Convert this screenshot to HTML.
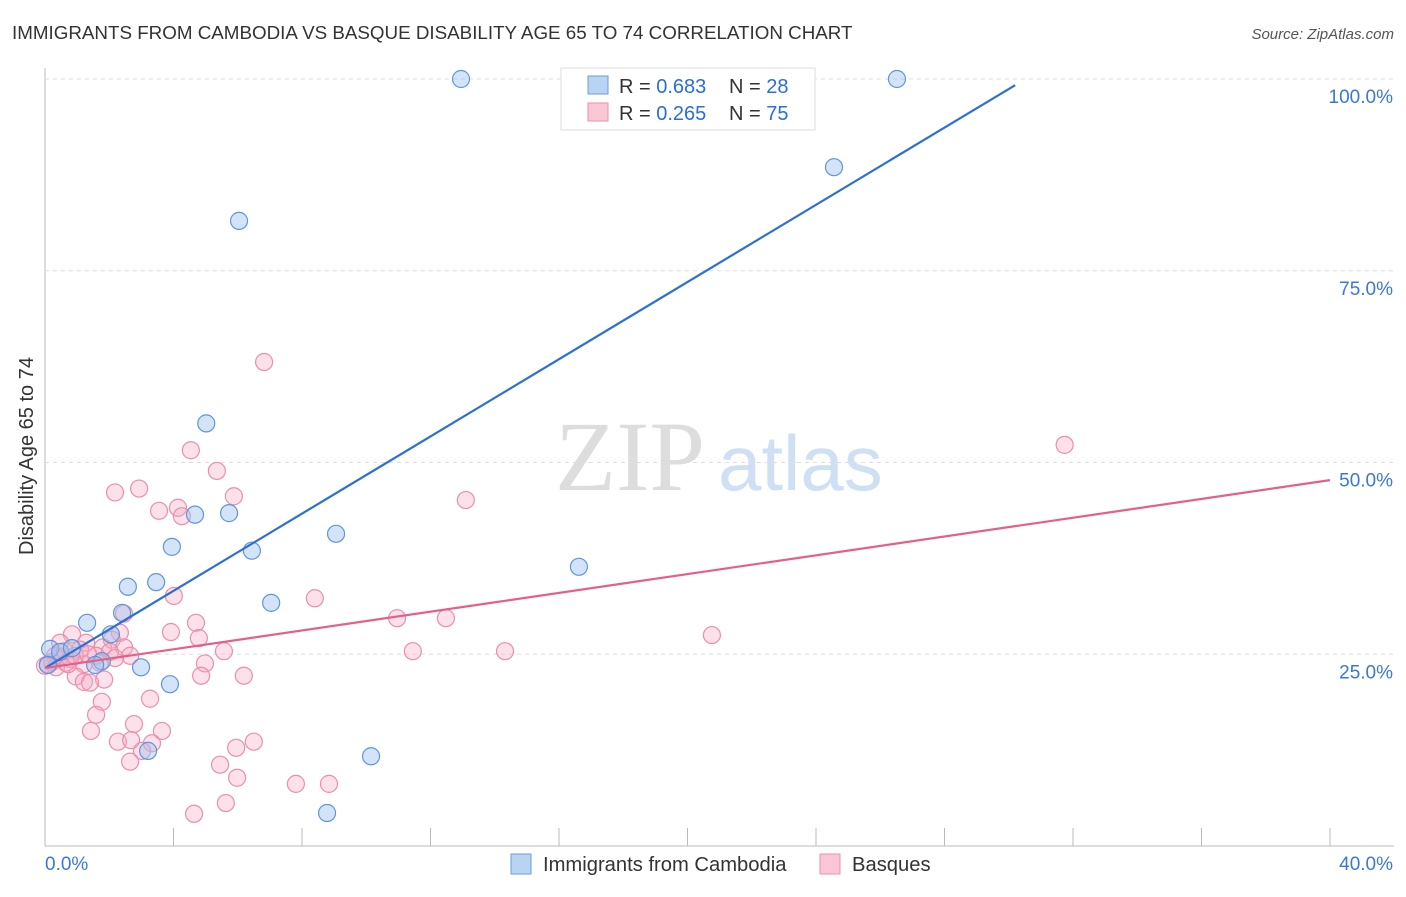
<!DOCTYPE html>
<html><head><meta charset="utf-8"><style>
body{margin:0;background:#fff;font-family:"Liberation Sans",sans-serif}
svg text{font-family:"Liberation Sans",sans-serif}
</style></head><body>
<svg id="c" width="1406" height="892" xmlns="http://www.w3.org/2000/svg">
<text x="12" y="39" font-size="18.8" fill="#333">IMMIGRANTS FROM CAMBODIA VS BASQUE DISABILITY AGE 65 TO 74 CORRELATION CHART</text>
<text x="1394" y="39" font-size="15" fill="#555" text-anchor="end" font-style="italic">Source: ZipAtlas.com</text>
<text x="555" y="490" font-size="100" fill="#ddd" style="font-family:'Liberation Serif',serif">ZIP</text>
<text x="718" y="490" font-size="78" fill="#cfe0f5">atlas</text>
<g id="grid"></g><g id="pts"></g><g id="lines"></g>
<text transform="translate(33,456) rotate(-90)" font-size="20" fill="#333" text-anchor="middle">Disability Age 65 to 74</text>
<g>
<rect x="561" y="68" width="254" height="62" fill="#fff" stroke="#ddd"/>
<rect x="588" y="76" width="20" height="18" fill="#b9d3f3" stroke="#6a9ee0"/>
<rect x="588" y="103" width="20" height="18" fill="#fbc7d6" stroke="#ee8fab"/>
<text x="619" y="93" font-size="20" fill="#333">R = <tspan fill="#2a6fd6">0.683</tspan></text>
<text x="729" y="93" font-size="20" fill="#333">N = <tspan fill="#2a6fd6">28</tspan></text>
<text x="619" y="120" font-size="20" fill="#333">R = <tspan fill="#2a6fd6">0.265</tspan></text>
<text x="729" y="120" font-size="20" fill="#333">N = <tspan fill="#2a6fd6">75</tspan></text>
</g>
<g>
<rect x="511" y="854" width="20" height="20" fill="#b9d3f3" stroke="#6a9ee0"/>
<text x="543" y="871" font-size="20.2" fill="#333">Immigrants from Cambodia</text>
<rect x="820" y="854" width="20" height="20" fill="#fbc7d6" stroke="#ee8fab"/>
<text x="852" y="871" font-size="20.2" fill="#333">Basques</text>
</g>
</svg>
<script>
const xTicks=[0,4,8,12,16,20,24,28,32,36,40];
const yTicks=[25,50,75,100];
const blueX=[12.95,26.52,24.56,6.04,5.02,4.67,5.73,3.95,6.44,9.06,16.62,3.46,2.58,7.04,2.40,1.31,2.05,1.77,2.99,3.89,3.21,10.15,8.78,0.16,0.47,0.84,1.56,0.09];
const blueY=[100,100,88.5,81.5,55.1,43.2,43.4,39.0,38.5,40.7,36.4,34.4,33.8,31.7,30.4,29.1,27.6,24.1,23.3,21.1,12.4,11.7,4.3,25.7,25.3,25.8,23.6,23.6];
const pinkX=[6.82,4.54,5.35,31.74,2.18,2.93,3.55,4.14,4.26,5.88,13.1,4.01,8.4,2.46,4.7,10.96,12.48,3.92,4.79,2.33,0.84,2.08,1.28,5.57,11.45,14.32,20.76,1.80,2.46,4.98,4.86,6.19,1.59,2.02,0.47,1.09,0.65,1.21,0.22,0.34,0.96,1.21,1.84,1.40,3.27,1.77,1.59,2.77,1.43,3.64,2.27,2.68,3.33,6.5,5.95,3.02,2.65,5.45,5.98,7.81,8.84,5.63,4.64,0.47,0.78,0.09,0.31,0.62,1.71,0.72,0.93,1.34,2.65,2.18,0];
const pinkY=[63.1,51.6,48.9,52.3,46.1,46.6,43.7,44.1,43.0,45.6,45.1,32.6,32.3,30.3,29.1,29.7,29.7,27.9,27.1,27.8,27.6,26.9,26.5,25.4,25.4,25.4,27.5,25.9,25.9,23.8,22.2,22.2,24.8,25.3,26.5,25.6,23.9,23.7,24.0,23.3,22.1,21.4,21.7,21.3,19.2,18.8,17.1,15.9,15.0,15.0,13.6,13.8,13.4,13.6,12.8,12.4,11.0,10.6,8.9,8.1,8.1,5.6,4.2,24.7,24.4,23.7,24.8,25.4,23.9,23.7,24.8,25.0,24.8,24.5,23.5];
const blueLine=[[0,23.2],[30.2,99.2]];
const pinkLine=[[0,23.2],[40,47.7]];
const X=v=>45+v/40*1285, Y=v=>846-v/100*767;
const ns="http://www.w3.org/2000/svg";
function mk(t,a,p){const e=document.createElementNS(ns,t);for(const k in a)e.setAttribute(k,a[k]);p.appendChild(e);return e;}
const g=document.getElementById('grid');
mk('line',{x1:45,y1:68,x2:45,y2:846,stroke:'#bbb'},g);
mk('line',{x1:45,y1:846,x2:1394,y2:846,stroke:'#bbb'},g);
yTicks.forEach(t=>{const l=mk('line',{x1:45,x2:1394,y1:Y(t),y2:Y(t),stroke:'#ddd','stroke-dasharray':'4,4'},g);


const tx=mk('text',{x:1393,y:Y(t)+24,'font-size':19,fill:'#3a78d8','text-anchor':'end'},g);tx.textContent=t.toFixed(1)+'%';

});
xTicks.forEach(t=>{const l=mk('line',{x1:X(t),x2:X(t),y1:828,y2:846,stroke:'#bbb'},g);

});
[[0,'start',45],[40,'end',1393]].forEach(([t,a,x])=>{const tx=mk('text',{x:x,y:870,'font-size':19,fill:'#3a78d8','text-anchor':a},g);tx.textContent=t.toFixed(1)+'%';

});
const p=document.getElementById('pts');
pinkX.forEach((v,i)=>{const c=mk('circle',{cx:X(v),cy:Y(pinkY[i]),r:8.5,fill:'rgba(246,170,195,0.35)',stroke:'#ec8eab','stroke-width':1.2},p);

});
blueX.forEach((v,i)=>{const c=mk('circle',{cx:X(v),cy:Y(blueY[i]),r:8.5,fill:'rgba(160,195,240,0.45)',stroke:'#5f95dc','stroke-width':1.2},p);

});
const L=document.getElementById('lines');
const bl=mk('line',{x1:X(blueLine[0][0]),y1:Y(blueLine[0][1]),x2:X(blueLine[1][0]),y2:Y(blueLine[1][1]),stroke:'#2a70d6','stroke-width':2.2},L);


const pl=mk('line',{x1:X(pinkLine[0][0]),y1:Y(pinkLine[0][1]),x2:X(pinkLine[1][0]),y2:Y(pinkLine[1][1]),stroke:'#e4608a','stroke-width':2.2},L);


</script>
</body></html>
